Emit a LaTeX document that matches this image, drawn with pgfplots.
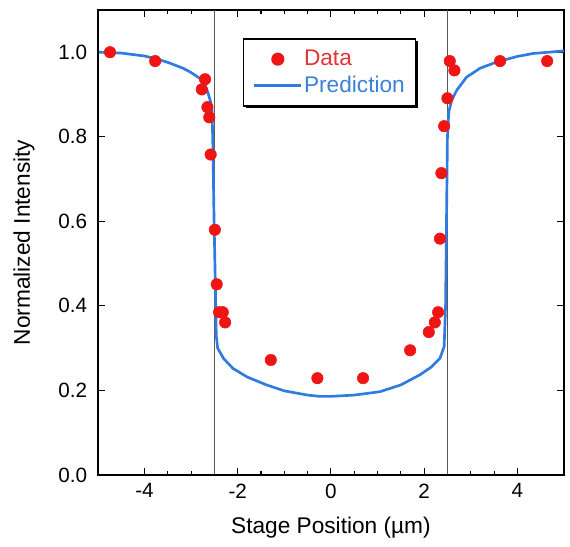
\documentclass[border=0pt]{standalone}
\usepackage{fontspec}
\setmainfont{Liberation Sans}
\usepackage{pgfplots}
\pgfplotsset{compat=1.18}
\definecolor{dotred}{HTML}{F01515}
\definecolor{predblue}{HTML}{2F7BE0}
\definecolor{txtred}{HTML}{E03535}
\definecolor{txtblue}{HTML}{3C80D8}

\begin{document}
\begin{tikzpicture}
\begin{axis}[
  scale only axis, width=349.5pt, height=348.75pt,
  xmin=-5, xmax=5, ymin=0, ymax=1.1,
  xtick={-4,-2,0,2,4}, xticklabels={{-4},{-2},0,2,4}, minor x tick num=3,
  ytick={0,0.2,0.4,0.6,0.8,1.0},
  yticklabels={0.0,0.2,0.4,0.6,0.8,1.0},
  tick style={black, line width=0.8pt},
  major tick length=5pt, minor tick length=3pt,
  axis line style={line width=1pt},
  tick label style={font=\fontsize{15.5}{17}\selectfont},
  yticklabel style={xshift=-4.5pt},
  xticklabel style={yshift=-3pt},
  label style={font=\fontsize{17}{19}\selectfont},
  xlabel={Stage Position (µm)},
  ylabel={Normalized Intensity},
  xlabel style={yshift=-7pt},
  ylabel style={yshift=11pt},
  legend cell align=left,
  legend image code/.code={\draw[mark repeat=2,mark phase=2,#1] plot coordinates {(0cm,0cm) (0.62cm,0cm) (1.24cm,0cm)};},
  legend style={at={(axis cs:-1.89,1.033)}, anchor=north west,
    draw=black, line width=1.2pt, fill=white,
    font=\fontsize{17}{19}\selectfont, inner xsep=7pt, inner ysep=7.5pt,
    row sep=4pt, nodes={inner xsep=1pt, inner ysep=1pt}},
]
% legend shadow (legend box is drawn on top of it)
\fill[black] (axis cs:-1.824,0.867) rectangle (axis cs:1.867,1.026);
% edges of the stage
\addplot[gray!70!black, line width=0.7pt, forget plot] coordinates {(-2.5,0) (-2.5,1.1)};
\addplot[gray!70!black, line width=0.7pt, forget plot] coordinates {(2.5,0) (2.5,1.1)};
% measured
\addplot[only marks, mark=*, mark size=4.3pt, dotred] coordinates {
  (-4.74,1.000) (-3.77,0.979) (-2.70,0.936) (-2.77,0.912) (-2.65,0.870)
  (-2.61,0.846) (-2.58,0.758) (-2.49,0.580) (-2.45,0.451) (-2.40,0.385)
  (-2.32,0.385) (-2.27,0.361) (-1.29,0.272) (-0.29,0.229) (0.69,0.229)
  (1.70,0.295) (2.10,0.338) (2.23,0.361) (2.30,0.385) (2.34,0.559)
  (2.37,0.714) (2.43,0.825) (2.50,0.891) (2.55,0.979) (2.65,0.957)
  (3.63,0.979) (4.64,0.979)
};
% prediction
\addplot[predblue, line width=2pt, line join=round] coordinates {
  (-5,1.000) (-4.5,0.998) (-4,0.991) (-3.77,0.985) (-3.5,0.976) (-3.17,0.962)
  (-3.0,0.952) (-2.81,0.938) (-2.7,0.922) (-2.64,0.905) (-2.58,0.882)
  (-2.55,0.862) (-2.53,0.767) (-2.51,0.62) (-2.48,0.45) (-2.46,0.33)
  (-2.43,0.300) (-2.3,0.275) (-2.1,0.252) (-1.8,0.232) (-1.38,0.213)
  (-1.0,0.199) (-0.5,0.189) (-0.24,0.186) (0,0.186) (0.5,0.189) (1.05,0.197)
  (1.5,0.213) (1.91,0.237) (2.15,0.255) (2.34,0.276) (2.43,0.304)
  (2.46,0.40) (2.48,0.60) (2.50,0.80) (2.53,0.860) (2.59,0.886) (2.7,0.910)
  (2.91,0.941) (3.2,0.962) (3.56,0.977) (4.0,0.990) (4.34,0.997) (5,1.003)
};
\legend{\textcolor{txtred}{Data},\textcolor{txtblue}{Prediction}}
\draw[line width=2pt] (rel axis cs:0,1) -- (rel axis cs:0,0) -- (rel axis cs:1,0);
\coordinate (bl) at (axis cs:-7.10,-0.1686);
\coordinate (tr) at (axis cs:5.13,1.1235);
\end{axis}
\pgfresetboundingbox
\path[use as bounding box] (bl) rectangle (tr);
\end{tikzpicture}
\end{document}
